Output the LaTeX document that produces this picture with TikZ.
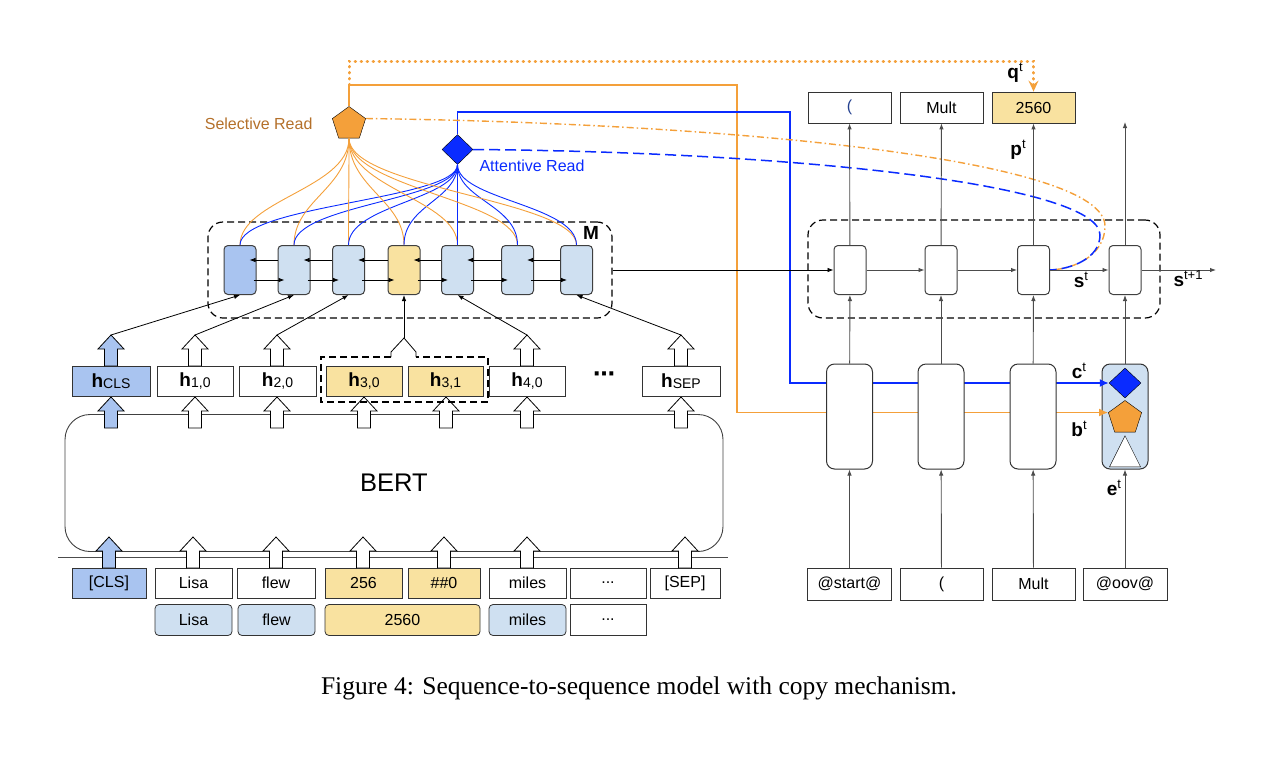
\documentclass[tikz,border=0pt]{standalone}
\usepackage{fontspec}
\setmainfont{Liberation Sans}
\newfontfamily\capfont{Liberation Serif}
\newfontfamily\symfont{DejaVu Sans}
\usetikzlibrary{arrows.meta,calc,shapes.geometric,positioning}

\definecolor{clsblue}{HTML}{A9C4F0}
\definecolor{memblue}{HTML}{CFE0F1}
\definecolor{numyellow}{HTML}{F9E2A0}
\definecolor{selorange}{HTML}{F4A03A}
\definecolor{seltext}{HTML}{B4702A}
\definecolor{attblue}{HTML}{0A2BFF}
\definecolor{parblue}{HTML}{23408F}

\newcommand{\hname}[1]{{\bfseries\fontsize{19}{19}\selectfont h}\raisebox{-1pt}{\fontsize{14}{14}\selectfont #1}}
\newcommand{\veclab}[2]{{\bfseries\fontsize{19}{19}\selectfont #1}\raisebox{7pt}{\fontsize{13}{13}\selectfont #2}}

\begin{document}
\begin{tikzpicture}[x=1pt,y=-1pt,
  font=\fontsize{16}{18}\selectfont,
  >={Latex[length=6pt,width=4.5pt]},
  box/.style={draw=black!80, line width=0.8pt, minimum height=30pt, inner sep=0pt},
  rbox/.style={box, rounded corners=4pt, minimum height=31pt},
  cell/.style={draw=black!75, line width=1pt, rounded corners=4pt, minimum width=32pt, minimum height=49pt, inner sep=0pt},
  tallbox/.style={draw=black!80, line width=1pt, rounded corners=8pt, minimum width=46pt, minimum height=105pt, inner sep=0pt, fill=white},
  dashbox/.style={draw, line width=1.2pt, dash pattern=on 7pt off 4pt, rounded corners=15pt, inner sep=0pt},
  pent/.style={regular polygon, regular polygon sides=5, minimum size=35pt, inner sep=0pt, draw, fill=selorange},
  diam/.style={diamond, minimum width=31pt, minimum height=30pt, inner sep=0pt, draw, fill=attblue},
  thin/.style={line width=0.8pt},
  dec/.style={draw=black!70, line width=0.9pt},
  blockup/.pic={\draw[line width=0.8pt, pic actions] (-6.5,0) -- (-6.5,-17) -- (-13,-17) -- (0,-31) -- (13,-17) -- (6.5,-17) -- (6.5,0) -- cycle;}]
\useasboundingbox (0,0) rectangle (1264,758);

\node[box, minimum width=74pt, fill=clsblue] (tcls) at (109,583) {[CLS]};
\node[box, minimum width=77pt] (t1) at (193.5,583) {Lisa};
\node[box, minimum width=78pt] (t2) at (276,583) {flew};
\node[box, minimum width=77pt, fill=numyellow] (t3) at (363.5,583) {256};
\node[box, minimum width=72pt, fill=numyellow] (t4) at (444,583) {\#\#0};
\node[box, minimum width=77pt] (t5) at (527.5,583) {miles};
\node[box, minimum width=76pt] (t6) at (608,583) {...};
\node[box, minimum width=70pt] (tsep) at (685,583) {[SEP]};

\node[rbox, minimum width=77pt, fill=memblue] (w1) at (193.5,620) {Lisa};
\node[rbox, minimum width=77pt, fill=memblue] (w2) at (276.5,620) {flew};
\node[rbox, minimum width=155pt, fill=numyellow] (w3) at (402.5,620) {2560};
\node[rbox, minimum width=77pt, fill=memblue] (w4) at (527.5,620) {miles};
\node[box, minimum width=76pt, minimum height=31pt] (w5) at (608,620) {...};

\node[draw=black!75, line width=0.9pt, rounded corners=25pt, minimum width=658pt, minimum height=137pt, font=\fontsize{25.5}{28}\selectfont] (bert) at (394,483) {BERT};
\draw[draw=black!70, line width=0.9pt] (58,557) -- (728,557);

\foreach \x in {193,276,363,444,527,685} \pic[fill=white] at (\x,568) {blockup};
\pic[fill=clsblue] at (109,568) {blockup};
\foreach \x in {195,277,364,446,527,681} \pic[fill=white] at (\x,428) {blockup};
\pic[fill=clsblue] at (111,428) {blockup};

\node[box, minimum width=78pt, fill=clsblue] (hcls) at (111,381) {\hname{CLS}};
\node[box, minimum width=76pt] (h1) at (195,381) {\hname{1,0}};
\node[box, minimum width=77pt] (h2) at (277.5,381) {\hname{2,0}};
\node[box, minimum width=76pt, fill=numyellow] (h3) at (364,381) {\hname{3,0}};
\node[box, minimum width=75pt, fill=numyellow] (h31) at (445.5,381) {\hname{3,1}};
\node[box, minimum width=76pt] (h4) at (527,381) {\hname{4,0}};
\node[font=\symfont\bfseries\fontsize{22}{22}\selectfont] (hdots) at (604,377) {⋯};
\node[box, minimum width=78pt] (hsep) at (681,381) {\hname{SEP}};

\draw[line width=1.2pt, dash pattern=on 7pt off 4pt] (391,357) -- (321,357) -- (321,402) -- (488,402) -- (488,357) -- (416,357);
\draw[thin] (391,357) -- (391,352) -- (404,338) -- (416,352) -- (416,357);

\foreach \x in {195,277,527,681} \pic[fill=white] at (\x,366) {blockup};
\pic[fill=clsblue] at (111,366) {blockup};
\coordinate (ucls) at (111,335);
\coordinate (u1) at (195,335);
\coordinate (u2) at (277,335);
\coordinate (u3) at (404,338);
\coordinate (u4) at (527,335);
\coordinate (usep) at (681,335);

\node[dashbox, minimum width=404pt, minimum height=96pt] (mem) at (410,270) {};
\node[font=\bfseries\fontsize{19}{19}\selectfont] (mlab) at (591,233) {M};

\node[pent] (sel) at (349,124) {};
\node[text=seltext, anchor=east] (sellab) at (316,124) {Selective Read};
\node[diam] (att) at (457.5,149.5) {};
\node[text=attblue, anchor=west] (attlab) at (476,166) {Attentive Read};

\foreach \x/\c [count=\i] in {240/clsblue,294/memblue,348.5/memblue,404/numyellow,457.5/memblue,517.5/memblue,576.5/memblue}
  \node[cell, fill=\c] (m\i) at (\x,270) {};

\foreach \i in {1,...,7} {
  \draw[selorange, line width=0.9pt] (sel.south) .. controls +(0,50) and +(0,-45) .. (m\i.north);
  \draw[attblue, line width=0.9pt] (att.south) .. controls +(0,35) and +(0,-40) .. (m\i.north);
}
\foreach \i/\j in {1/2,2/3,3/4,4/5,5/6,6/7} {
  \draw[thin,->] ($(m\j.west)+(0,-10)$) -- ($(m\i.east)+(-7,-10)$);
  \draw[thin,->] ($(m\i.east)+(-3,10)$) -- ($(m\j.west)+(7,10)$);
}
\draw[thin,->] (ucls) -- (m1.south);
\draw[thin,->] (u1) -- (m2.south);
\draw[thin,->] (u2) -- (m3.south);
\draw[thin,->] (u3) -- (m4.south);
\draw[thin,->] (u4) -- (m5.south);
\draw[thin,->] (usep) -- (m7.south);

\node[dashbox, minimum width=352pt, minimum height=98pt] (decbox) at (984,269) {};
\foreach \x [count=\i] in {850,941,1033.5,1125}
  \node[cell, fill=white] (d\i) at (\x,270) {};
\node[box, minimum width=83pt, minimum height=31pt, text=parblue] (o1) at (849.5,107.5) {(};
\node[box, minimum width=83pt, minimum height=31pt] (o2) at (941.5,107.5) {Mult};
\node[box, minimum width=83pt, minimum height=31pt, fill=numyellow] (o3) at (1033.5,107.5) {2560};
\coordinate (dtop) at (1125,122);
\coordinate (snext) at (1216,270);

\node[box, minimum width=84pt, minimum height=32pt] (i1) at (849.5,584) {@start@};
\node[box, minimum width=83pt, minimum height=32pt] (i2) at (941.5,584) {(};
\node[box, minimum width=83pt, minimum height=32pt] (i3) at (1033.5,584) {Mult};
\node[box, minimum width=84pt, minimum height=32pt] (i4) at (1125,584) {@oov@};

\node[tallbox, fill=memblue] (g4) at (1125,416.5) {};
\node[diam, minimum width=32pt] (db) at (1125,383) {};
\node[pent] (pb) at (1125,418) {};
\node[isosceles triangle, isosceles triangle stretches, shape border rotate=90, minimum width=31pt, minimum height=31pt, inner sep=0pt, draw, fill=white, anchor=lower side] (tb) at (1125,467) {};

\draw[selorange, line width=1.6pt, ->, >={Latex[length=9pt,width=8pt]}] (sel.north) -- (349,85) coordinate (selup) -- (737,85) -- (737,85 |- pb.corner 2) -- (pb.corner 2);
\draw[attblue, line width=1.6pt, ->, >={Latex[length=9pt,width=8pt]}] (att.north) -- (457.5,112) -- (790,112) -- (790,112 |- db.west) -- (db.west);
\draw[selorange, line width=3pt, line cap=round, dash pattern=on 0.6pt off 5.4pt, ->, >={Stealth[length=11pt,width=10pt,inset=4pt]}] (selup) -- (349,61) -- (1033.5,61) -- (o3.north);
\draw[selorange, line width=1.4pt, dash pattern=on 7pt off 3pt on 1.5pt off 3pt] (sel.corner 5) .. controls (720,123) and (1105,158) .. (1105,226) .. controls (1105,255) and (1075,269) .. (d3.east);
\draw[attblue, line width=1.5pt, dash pattern=on 11pt off 5pt] (att.east) .. controls (800,152) and (1100,185) .. (1100,235) .. controls (1100,258) and (1072,269) .. (d3.east);

\foreach \x [count=\i] in {849.5,941,1033} \node[tallbox] (g\i) at (\x,416.5) {};

\foreach \i in {1,2,3} {
  \draw[dec,->] (i\i) -- (g\i);
  \draw[dec,->] (g\i) -- (d\i);
  \draw[dec,->] (d\i) -- (o\i);
}
\draw[dec,->] (i4) -- (g4);
\draw[dec,->] (g4) -- (d4);
\draw[dec,->] (d4) -- (dtop);
\draw[thin,->] (mem.east) -- (d1);
\draw[dec,->] (d1) -- (d2);
\draw[dec,->] (d2) -- (d3);
\draw[dec,->] (d3) -- (d4);
\draw[dec,->] (d4) -- (snext);

\node (qt) at (1015,73) {\veclab{q}{t}};
\node (pt) at (1018,150) {\veclab{p}{t}};
\node (st) at (1081,280) {\veclab{s}{t}};
\node (st1) at (1188,279) {\veclab{s}{t+1}};
\node (ct) at (1079,371) {\veclab{c}{t}};
\node (bt) at (1079,429) {\veclab{b}{t}};
\node (et) at (1114,488) {\veclab{e}{t}};

\node[font=\capfont\fontsize{25.5}{28}\selectfont] (cap) at (639,688) {Figure 4: Sequence-to-sequence model with copy mechanism.};
\end{tikzpicture}
\end{document}
